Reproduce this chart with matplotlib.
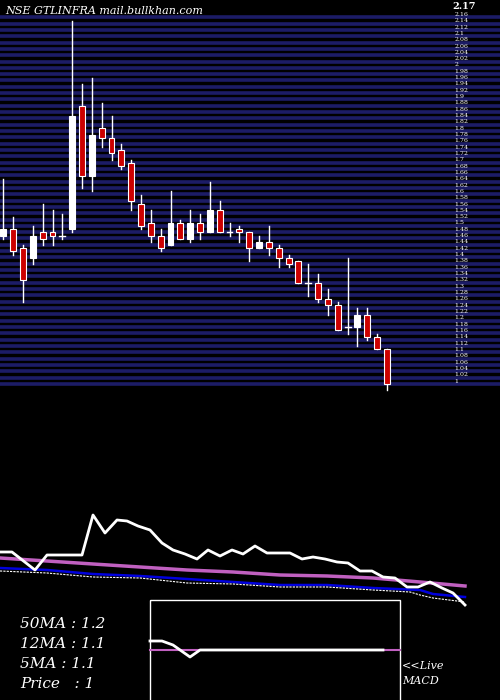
import numpy as np
import matplotlib
matplotlib.use('Agg')
import matplotlib.pyplot as plt
from matplotlib.patches import Rectangle

# candles (open, high, low, close)
opens  = [1.46, 1.48, 1.42, 1.39, 1.47, 1.47, 1.46, 1.48, 1.87, 1.65,
          1.80, 1.77, 1.73, 1.69, 1.56, 1.50, 1.46, 1.43, 1.50, 1.45,
          1.50, 1.47, 1.54, 1.47, 1.48, 1.47, 1.42, 1.44, 1.42, 1.39,
          1.38, 1.31, 1.31, 1.26, 1.24, 1.17, 1.17, 1.21, 1.14, 1.10]
highs  = [1.64, 1.52, 1.43, 1.49, 1.56, 1.54, 1.53, 2.14, 1.94, 1.96,
          1.88, 1.84, 1.75, 1.70, 1.59, 1.54, 1.48, 1.60, 1.51, 1.54,
          1.53, 1.63, 1.57, 1.50, 1.49, 1.47, 1.46, 1.49, 1.43, 1.40,
          1.38, 1.37, 1.34, 1.29, 1.25, 1.39, 1.23, 1.23, 1.15, 1.10]
lows   = [1.45, 1.40, 1.25, 1.37, 1.43, 1.43, 1.45, 1.47, 1.61, 1.60,
          1.74, 1.70, 1.67, 1.54, 1.48, 1.44, 1.41, 1.43, 1.45, 1.44,
          1.45, 1.47, 1.47, 1.46, 1.44, 1.38, 1.42, 1.40, 1.36, 1.36,
          1.31, 1.27, 1.25, 1.21, 1.16, 1.15, 1.11, 1.13, 1.10, 0.97]
closes = [1.48, 1.41, 1.32, 1.46, 1.45, 1.46, 1.46, 1.84, 1.65, 1.78,
          1.77, 1.72, 1.68, 1.57, 1.49, 1.46, 1.42, 1.50, 1.45, 1.50,
          1.47, 1.54, 1.47, 1.47, 1.47, 1.42, 1.44, 1.42, 1.39, 1.37,
          1.31, 1.31, 1.26, 1.24, 1.16, 1.17, 1.21, 1.14, 1.10, 0.99]

price_labels = np.round(np.arange(2.16, 0.999, -0.02), 2)

# lower panel lines (x in px, level in px from top)
white_x = [0, 12, 35, 47, 82, 93, 105, 117, 127, 138, 150, 162, 173, 185, 197, 208,
           220, 232, 243, 255, 267, 290, 302, 313, 325, 337, 348, 360, 372, 383, 395,
           407, 418, 430, 442, 453, 465]
white_y = [552, 552, 570, 555, 555, 515, 533, 520, 521, 526, 530, 543, 550, 554, 559,
           550, 556, 550, 554, 546, 553, 553, 559, 557, 559, 562, 563, 571, 571, 577,
           578, 587, 587, 582, 588, 593, 605]
pink_x = [0, 47, 93, 140, 187, 233, 280, 327, 373, 420, 465]
pink_y = [558, 561, 564, 567, 570, 572, 575, 576, 578, 582, 586]
blue_x = [0, 47, 93, 140, 187, 233, 280, 327, 373, 420, 433, 465]
blue_y = [568, 570, 574, 576, 579, 582, 585, 585, 588, 590, 594, 597]
dot_x = [0, 47, 93, 140, 187, 233, 280, 327, 373, 410, 420, 433, 465]
dot_y = [571, 573, 577, 578, 583, 584, 587, 587, 590, 592, 595, 598, 602]
macd_x = [150, 162, 173, 190, 200, 383]
macd_y = [641, 641, 645, 657, 650, 650]
ma_text = ['50MA : 1.2', '12MA : 1.1', '5MA : 1.1', 'Price   : 1']

fig = plt.figure(figsize=(5, 7), dpi=100, facecolor='black')

# full-figure pixel axes for the lower panel
base = fig.add_axes([0, 0, 1, 1])
base.set_xlim(0, 500)
base.set_ylim(700, 0)
base.axis('off')
base.set_facecolor('black')

# price panel: 1.0 at y=381px, 316 px per unit
top_px = 393
pax = fig.add_axes([0, 1 - top_px / 700, 1, top_px / 700])
pax.set_facecolor('black')
pax.set_ylim(1 - (top_px - 381) / 316, 1 + 381 / 316)
pax.set_xlim(-0.34, 50.5)
pax.axis('off')

for p in price_labels:
    if p < 2.15:
        pax.axhline(p + 0.011, color='#1c1c66', lw=2.6, zorder=0)
    pax.text(45.9, p, f'{p:g}', color='white', fontsize=4.5, family='serif',
             va='center', ha='left')
pax.axhline(0.99, color='#1c1c66', lw=2.6, zorder=0)

w = 0.6
for i, (o, h, l, c) in enumerate(zip(opens, highs, lows, closes)):
    pax.plot([i, i], [l, h], color='white', lw=1, zorder=2)
    if abs(c - o) < 0.005:
        pax.plot([i - w / 2, i + w / 2], [c, c], color='white', lw=1, zorder=3)
        continue
    face = 'white' if c > o else '#cc0000'
    pax.add_patch(Rectangle((i - w / 2, min(o, c)), w, abs(c - o),
                            facecolor=face, edgecolor='white', lw=0.8, zorder=3))

fig.text(0.01, 0.985, 'NSE GTLINFRA mail.bullkhan.com', color='white',
         fontsize=8, family='serif', style='italic', va='center')
fig.text(0.905, 0.991, '2.17', color='white', fontsize=7, family='serif',
         weight='bold', va='center')

base.plot(pink_x, pink_y, color='#c060c0', lw=2.5)
base.plot(blue_x, blue_y, color='#0000dd', lw=1.8)
base.plot(dot_x, dot_y, color='white', lw=0.8, ls=(0, (2, 1)))
base.plot(white_x, white_y, color='white', lw=2)

base.add_patch(Rectangle((150, 600), 250, 102, facecolor='none',
                         edgecolor='white', lw=1))
base.plot([150, 400], [650, 650], color='#c060c0', lw=1.5)
base.plot(macd_x, macd_y, color='white', lw=2)
base.text(402, 666, '<<Live', color='white', fontsize=8, family='serif',
          style='italic', va='center')
base.text(402, 681, 'MACD', color='white', fontsize=8, family='serif',
          style='italic', va='center')
for k, t in enumerate(ma_text):
    base.text(20, 624 + k * 20, t, color='white', fontsize=11, family='serif',
              style='italic', va='center')

fig.savefig('out.png', dpi=100, facecolor='black')
